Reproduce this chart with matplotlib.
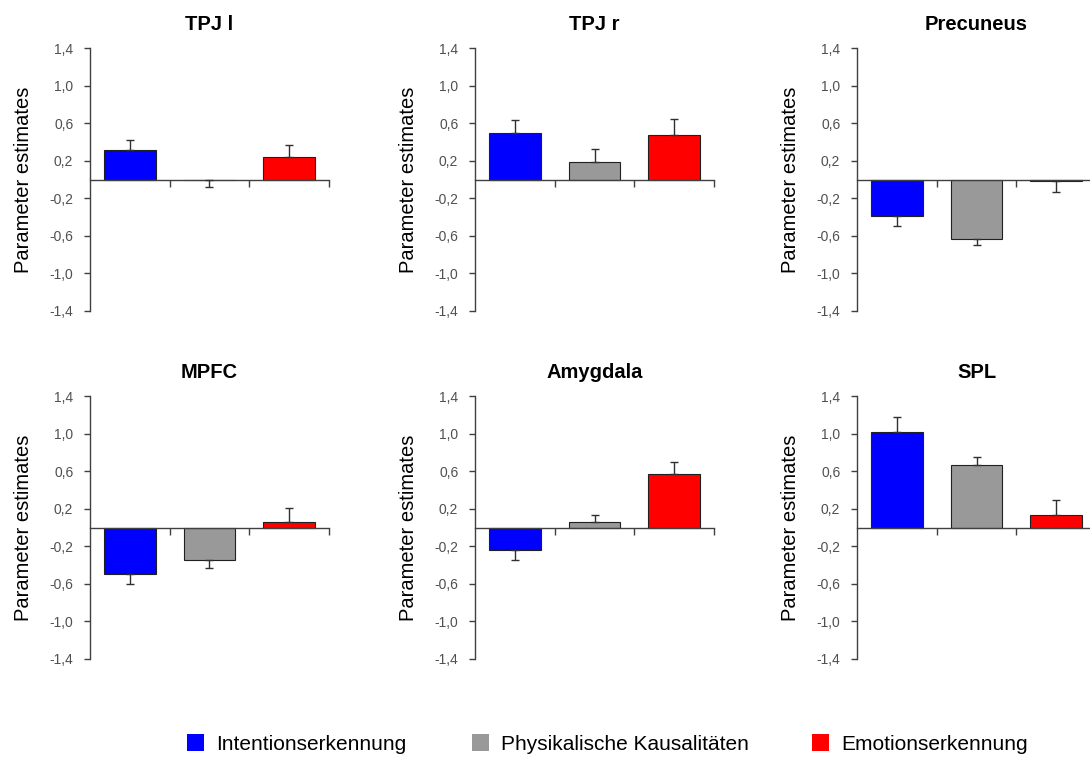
import matplotlib
matplotlib.use("Agg")
import matplotlib.pyplot as plt
from matplotlib.patches import Rectangle
import numpy as np

regions = ["TPJ l", "TPJ r", "Precuneus", "MPFC", "Amygdala", "SPL"]
conditions = ["Intentionserkennung", "Physikalische Kausalitäten", "Emotionserkennung"]
colors = ["#0000FF", "#999999", "#FF0000"]

intention = [0.31, 0.50, -0.39, -0.50, -0.24, 1.02]
intention_err = [0.11, 0.13, 0.11, 0.10, 0.11, 0.16]
physical = [-0.01, 0.19, -0.63, -0.35, 0.06, 0.67]
physical_err = [0.07, 0.13, 0.07, 0.08, 0.07, 0.08]
emotion = [0.24, 0.47, -0.02, 0.06, 0.57, 0.13]
emotion_err = [0.13, 0.17, 0.11, 0.15, 0.13, 0.16]

yticks = [-1.4, -1.0, -0.6, -0.2, 0.2, 0.6, 1.0, 1.4]
ytick_labels = [f"{v:.1f}".replace(".", ",") for v in yticks]

plt.rcParams["font.family"] = ["Liberation Sans", "DejaVu Sans"]

W, H = 1090, 758
fig = plt.figure(figsize=(W / 100, H / 100), dpi=100)

lefts = [90, 475, 857]
tops = [48, 396]
ax_w, ax_h = 239, 263

axis_col = "#404040"
for i, region in enumerate(regions):
    r, c = divmod(i, 3)
    ax = fig.add_axes([lefts[c] / W, 1 - (tops[r] + ax_h) / H, ax_w / W, ax_h / H])
    vals = [intention[i], physical[i], emotion[i]]
    errs = [intention_err[i], physical_err[i], emotion_err[i]]
    x = np.arange(3)
    ax.bar(x, vals, width=0.65, color=colors, edgecolor="#202020", linewidth=0.8, zorder=2)
    lower = [e if v < 0 else 0 for v, e in zip(vals, errs)]
    upper = [e if v >= 0 else 0 for v, e in zip(vals, errs)]
    ax.errorbar(x, vals, yerr=[lower, upper], fmt="none", ecolor="#303030",
                elinewidth=1, capsize=3, capthick=1, zorder=3)
    ax.set_xlim(-0.5, 2.5)
    ax.set_ylim(-1.4, 1.4)
    ax.set_yticks(yticks)
    ax.set_yticklabels(ytick_labels)
    ax.set_xticks([0.5, 1.5, 2.5])
    ax.set_xticklabels([])
    ax.spines["top"].set_visible(False)
    ax.spines["right"].set_visible(False)
    ax.spines["bottom"].set_position(("data", 0))
    for s in ("left", "bottom"):
        ax.spines[s].set_color(axis_col)
        ax.spines[s].set_linewidth(1)
    ax.tick_params(axis="y", direction="out", length=4, width=1, color=axis_col,
                   labelsize=10, labelcolor="#505050", pad=8)
    ax.tick_params(axis="x", direction="out", length=5, width=1, color=axis_col)
    ax.set_title(region, fontsize=14.5, fontweight="bold", pad=13)
    ax.set_ylabel("Parameter estimates", fontsize=14.5, color="black")
    ax.yaxis.set_label_coords(-0.24, 0.5)
    ax.patch.set_visible(False)

# legend
leg_sq = [187, 472, 812]
for xs, col, lab in zip(leg_sq, colors, conditions):
    fig.add_artist(Rectangle((xs / W, 1 - 751 / H), 17 / W, 17 / H,
                             transform=fig.transFigure, facecolor=col, edgecolor="none"))
    fig.text((xs + 29) / W, 1 - 744 / H, lab, fontsize=15, va="center", ha="left")

fig.savefig("out.png", dpi=100)
